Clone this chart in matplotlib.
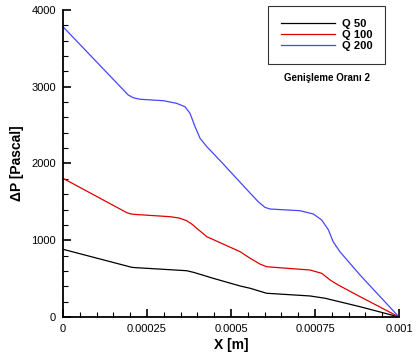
import numpy as np
import matplotlib
matplotlib.use("Agg")
import matplotlib.pyplot as plt
from matplotlib.ticker import MultipleLocator, FixedLocator

plt.rcParams['font.family'] = ['Liberation Sans', 'DejaVu Sans']

# Q 50
x_q50 = [0, 0.000204, 0.000215, 0.000368, 0.00039, 0.000447, 0.000527, 0.000557,
         0.000606, 0.000735, 0.00078, 0.000884, 0.001]
p_q50 = [882, 648, 643, 603, 580, 504, 404, 374, 309, 274, 244, 134, 0]

# Q 100
x_q100 = [0, 0.00019, 0.0002, 0.000209, 0.000318, 0.000345, 0.000368, 0.000385, 0.000398,
          0.000428, 0.000527, 0.000557, 0.000586, 0.000606, 0.000656, 0.000735, 0.00077,
          0.000795, 0.000819, 0.000884, 0.001]
p_q100 = [1807, 1359, 1345, 1338, 1307, 1290, 1255, 1205, 1156,
          1046, 851, 765, 690, 655, 638, 612, 569, 482, 417, 265, 0]

# Q 200
x_q200 = [0, 0.000194, 0.000209, 0.000229, 0.000299, 0.000338, 0.000363,
          0.000378, 0.000393, 0.000408, 0.000428, 0.000467, 0.000557, 0.000581, 0.000601,
          0.000616, 0.000705, 0.000745, 0.00077, 0.00079, 0.000804, 0.000824, 0.000884, 0.001]
p_q200 = [3782, 2893, 2857, 2837, 2818, 2784, 2740,
          2654, 2480, 2328, 2219, 2040, 1614, 1502, 1429,
          1407, 1385, 1342, 1264, 1134, 981, 851, 547, 0]

labels = ['Q 50', 'Q 100', 'Q 200']
colors = ['black', '#e00000', '#4646ff']

x_ticks = [0, 0.00025, 0.0005, 0.00075, 0.001]
x_ticklabels = ['0', '0.00025', '0.0005', '0.00075', '0.001']
y_ticks = [0, 1000, 2000, 3000, 4000]

fig = plt.figure(figsize=(4.2, 3.56), dpi=100)
ax = fig.add_axes([0.15, 0.1096, 0.8, 0.8623])

for xs, ps, lab, c in zip([x_q50, x_q100, x_q200], [p_q50, p_q100, p_q200], labels, colors):
    ax.plot(xs, ps, color=c, lw=0.9, label=lab)

ax.set_xlim(0, 0.001)
ax.set_ylim(0, 4000)
ax.xaxis.set_major_locator(FixedLocator(x_ticks))
ax.set_xticklabels(x_ticklabels)
ax.xaxis.set_minor_locator(MultipleLocator(0.00005))
ax.yaxis.set_major_locator(FixedLocator(y_ticks))
ax.yaxis.set_minor_locator(MultipleLocator(200))
ax.tick_params(which='both', direction='in', labelsize=8, color='black')
ax.tick_params(which='major', length=6, width=1.2, pad=5)
ax.tick_params(which='minor', length=3.5, width=0.8)

ax.spines['top'].set_visible(False)
ax.spines['right'].set_visible(False)
ax.spines['left'].set_linewidth(1.3)
ax.spines['bottom'].set_linewidth(1.3)

ax.set_xlabel('X [m]', fontsize=10, fontweight='bold', labelpad=3)
ax.set_ylabel('ΔP [Pascal]', fontsize=10, fontweight='bold', labelpad=5)

leg = ax.legend(loc='upper left', bbox_to_anchor=(0.610, 1.013),
                prop={'weight': 'bold', 'size': 8}, frameon=True, fancybox=False,
                handlelength=4.9, handletextpad=0.6, labelspacing=0.1,
                borderpad=1.15, borderaxespad=0)
leg.get_frame().set_edgecolor('black')
leg.get_frame().set_linewidth(0.8)

fig.text(0.778, 0.782, 'Genişleme Oranı 2', fontsize=7, fontweight='bold', ha='center', va='center')

fig.savefig('out.png', dpi=100)
